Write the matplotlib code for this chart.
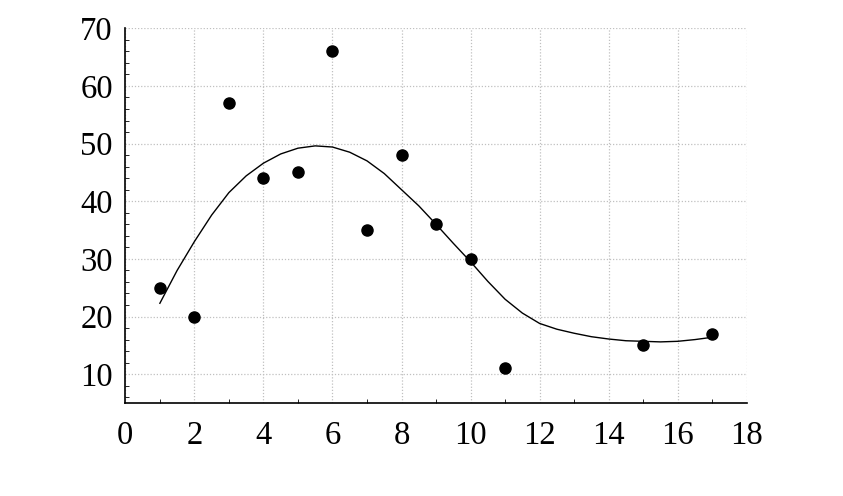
import matplotlib.pyplot as plt

# Observed data points
x_obs = [1, 2, 3, 4, 5, 6, 7, 8, 9, 10, 11, 15, 17]
y_obs = [25, 20, 57, 44, 45, 66, 35, 48, 36, 30, 11, 15, 17]

# Fitted curve
x_fit = [1, 1.5, 2, 2.5, 3, 3.5, 4, 4.5, 5, 5.5, 6, 6.5, 7, 7.5, 8, 8.5,
         9, 9.5, 10, 10.5, 11, 11.5, 12, 12.5, 13, 13.5, 14, 14.5, 15,
         15.5, 16, 16.5, 17]
y_fit = [22.3, 28.0, 33.0, 37.6, 41.5, 44.4, 46.6, 48.2, 49.2, 49.6, 49.4,
         48.5, 47.0, 44.8, 42.0, 39.2, 36.0, 32.7, 29.5, 26.1, 23.0, 20.6,
         18.8, 17.8, 17.1, 16.5, 16.1, 15.8, 15.7, 15.6, 15.7, 16.0, 16.4]

x_ticks = [0, 2, 4, 6, 8, 10, 12, 14, 16, 18]
y_ticks = [10, 20, 30, 40, 50, 60, 70]

plt.rcParams['font.family'] = ['Liberation Serif', 'DejaVu Serif']

fig = plt.figure(figsize=(8.43, 4.96), dpi=100)
ax = fig.add_axes([0.1487, 0.1875, 0.8858 - 0.1487, 0.943 - 0.1875])

ax.plot(x_fit, y_fit, color='black', linewidth=1.0)
ax.plot(x_obs, y_obs, 'o', color='black', markersize=8)

ax.set_xlim(0, 18)
ax.set_ylim(5, 70)
ax.set_xticks(x_ticks)
ax.set_yticks(y_ticks)
ax.set_xticks(range(1, 18, 2), minor=True)
ax.set_yticks(range(6, 70, 2), minor=True)

ax.grid(True, which='major', color='#c0c0c0', linestyle=(0, (1, 1.5)), linewidth=0.9)
ax.spines['top'].set_visible(False)
ax.spines['right'].set_visible(False)
ax.spines['left'].set_linewidth(1.2)
ax.spines['bottom'].set_linewidth(1.2)

ax.tick_params(which='both', direction='in', labelsize=23.5, colors='black')
ax.tick_params(which='major', length=0)
ax.tick_params(which='minor', length=3)
ax.tick_params(axis='x', pad=12.5)
ax.tick_params(axis='y', pad=9)

plt.savefig('out.png', dpi=100)
